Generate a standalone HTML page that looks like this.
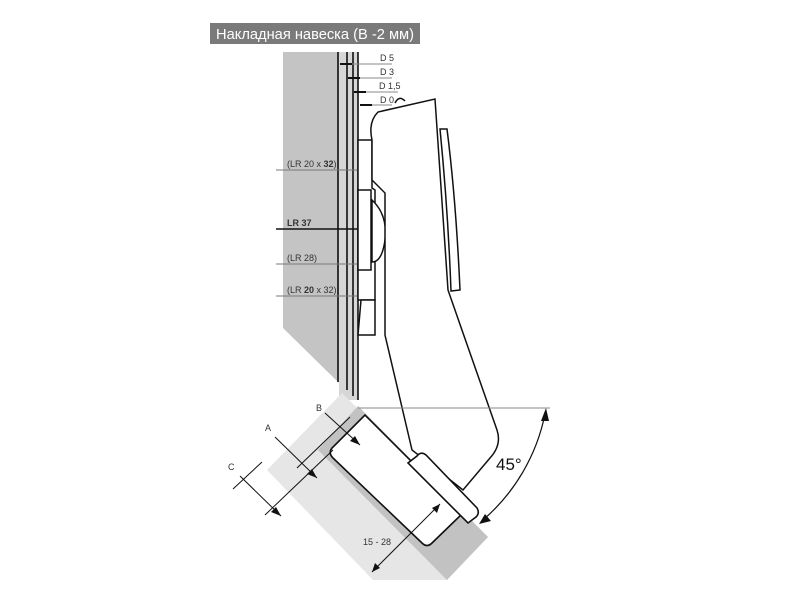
<!DOCTYPE html>
<html><head><meta charset="utf-8"><style>
html,body{margin:0;padding:0;background:#fff;}
svg{display:block;font-family:"Liberation Sans","DejaVu Sans",sans-serif;}
</style></head><body>
<svg width="800" height="600" viewBox="0 0 800 600" xmlns="http://www.w3.org/2000/svg">
<rect x="210" y="23" width="210" height="21" fill="#7a7a7a"/>
<text x="216" y="39" font-size="15" fill="#fff" textLength="198" lengthAdjust="spacingAndGlyphs">Накладная навеска (В -2 мм)</text>
<!-- wall -->
<polygon points="283,52 358,52 358,400 338,382 283,328" fill="#c4c4c4"/>
<rect x="339" y="52" width="19" height="348" fill="#d6d6d6"/>
<g stroke="#111" stroke-width="1.6">
<line x1="338" y1="52" x2="338" y2="382"/>
<line x1="347" y1="52" x2="347" y2="390"/>
<line x1="353" y1="52" x2="353" y2="396"/>
<line x1="358" y1="52" x2="358" y2="400"/>
</g>
<!-- D labels -->
<g font-size="9" fill="#333">
<text x="380" y="61">D 5</text><text x="380" y="75">D 3</text>
<text x="379" y="89">D 1,5</text><text x="380" y="103">D 0</text>
</g>
<g stroke="#888" stroke-width="1">
<line x1="340" y1="64" x2="392" y2="64"/><line x1="348" y1="78" x2="392" y2="78"/>
<line x1="354" y1="92" x2="398" y2="92"/><line x1="360" y1="105" x2="392" y2="105"/>
</g>
<g stroke="#111" stroke-width="2">
<line x1="340" y1="64" x2="352" y2="64"/><line x1="348" y1="78" x2="360" y2="78"/>
<line x1="354" y1="92" x2="366" y2="92"/><line x1="360" y1="105" x2="372" y2="105"/>
</g>
<!-- LR labels -->
<g font-size="9" fill="#333">
<text x="287" y="167">(LR 20 x <tspan font-weight="bold">32</tspan>)</text>
<text x="287" y="226" font-weight="bold">LR 37</text>
<text x="287" y="261">(LR 28)</text>
<text x="287" y="293">(LR <tspan font-weight="bold">20</tspan> x 32)</text>
</g>
<g stroke="#777" stroke-width="1">
<line x1="276" y1="170" x2="365" y2="170"/>
<line x1="276" y1="264" x2="365" y2="264"/>
<line x1="276" y1="296" x2="365" y2="296"/>
</g>
<line x1="276" y1="229" x2="365" y2="229" stroke="#111" stroke-width="1.6"/>
<!-- mounting plate -->
<g fill="#fff" stroke="#111" stroke-width="1.5">
<path d="M358,140 L372,140 L372,188 L375,190 L375,300 L358,300 Z"/>
<path d="M358,190 L371,190 L371,270 L358,270 Z"/>
<path d="M372,200 Q388,215 385,240 Q382,262 372,262 Z"/>
<path d="M361,300 L375,300 L375,335 L358,335 Z"/>
<!-- arm -->
<path d="M372,140 Q368,122 378,112 L435,99 L448,290 L463,333 L497,430 Q502,445 490,458 L463,490 L412,450 L385,335 L385,193 L372,180 Z"/>
<path d="M440,129 L447,129 Q456,200 460,290 L451,291 Q448,210 440,129 Z"/>
<path d="M395,103 Q399,95 405,101"/>
</g>
<!-- door -->
<polygon points="342,393 488,537 447,580 373,580 267,470" fill="#e6e6e6"/>
<polygon points="358,406 488,537 447,580 318,450" fill="#c2c2c2"/>
<!-- cup -->
<g fill="#fff" stroke="#111" stroke-width="1.6">
<path d="M365,415 L332,448 Q328,453 333,458 L422,543 Q427,548 432,543 L463,513 Z"/>
<path d="M417,456 Q421,451 426,455 L477,508 Q480,513 476,517 L468,523 L408,463 Z"/>
</g>
<!-- angle -->
<line x1="358" y1="408" x2="550" y2="408" stroke="#888" stroke-width="1"/>
<path d="M545,414 A190,190 0 0 1 483,520" fill="none" stroke="#111" stroke-width="1.2"/>
<polygon points="546,408 541,421 549,421" fill="#111"/>
<polygon points="479,524 491,521 485,514" fill="#111"/>
<text x="496" y="470" font-size="17" fill="#111">45°</text>
<!-- dimension lines -->
<g stroke="#111" stroke-width="1">
<line x1="325" y1="413" x2="360" y2="445"/>
<line x1="275" y1="437" x2="317" y2="478"/>
<line x1="240" y1="476" x2="281" y2="516"/>
<line x1="265" y1="515" x2="333" y2="450"/>
<line x1="297" y1="468" x2="350" y2="417"/>
<line x1="233" y1="489" x2="262" y2="462"/>
<line x1="372" y1="572" x2="440" y2="504"/>
</g>
<g fill="#111">
<polygon points="360,445 350,441 355,436"/>
<polygon points="317,478 307,474 312,469"/>
<polygon points="281,516 271,512 276,507"/>
<polygon points="372,572 375,563 380,568"/>
<polygon points="440,504 437,513 432,508"/>
</g>
<g font-size="9" fill="#333">
<text x="316" y="411">B</text><text x="265" y="431">A</text><text x="228" y="470">C</text>
<text x="363" y="545">15 - 28</text>
</g>
</svg>
</body></html>
